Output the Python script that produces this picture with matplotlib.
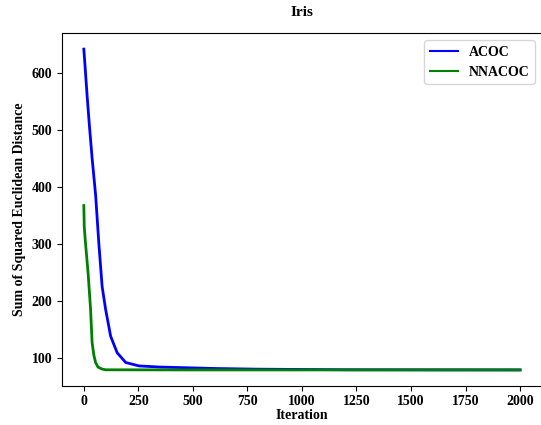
import matplotlib.pyplot as plt

# 迭代次数与目标函数值
acoc_iter = [0, 5, 15, 25, 38, 54, 69, 84, 100, 123, 153, 192, 253, 350, 500, 600, 800, 1200, 2000]
acoc_sse = [641, 615, 560, 510, 450, 386, 300, 225, 185, 138, 109, 92, 86, 84, 82.5, 81.5, 80.3, 79.3, 79.0]

nnacoc_iter = [0, 2, 8, 20, 31, 38, 46, 54, 65, 84, 100, 500, 2000]
nnacoc_sse = [367, 330, 300, 247, 185, 127, 105, 92, 84, 80.5, 79.2, 79.0, 79.0]

plt.rcParams['font.family'] = ['Liberation Serif', 'DejaVu Serif']
plt.rcParams['font.weight'] = 'bold'

fig = plt.figure(figsize=(5.41, 4.25), dpi=100)
ax = fig.add_axes([0.1146, 0.092, 0.887, 0.83])

ax.plot(acoc_iter, acoc_sse, color='blue', linewidth=2, label='ACOC')
ax.plot(nnacoc_iter, nnacoc_sse, color='green', linewidth=2, label='NNACOC')

ax.set_xlim(-100, 2100)
ax.set_ylim(51, 669)
ax.set_xticks([0, 250, 500, 750, 1000, 1250, 1500, 1750, 2000])
ax.set_yticks([100, 200, 300, 400, 500, 600])
ax.tick_params(labelsize=10)
ax.tick_params(axis='x', pad=3)
for lab in ax.get_xticklabels() + ax.get_yticklabels():
    lab.set_fontweight('bold')

ax.set_title('Iris', fontsize=11, fontweight='bold', pad=12)
ax.set_xlabel('Iteration', fontsize=10, fontweight='bold', labelpad=1)
ax.set_ylabel('Sum of Squared Euclidean Distance', fontsize=10, fontweight='bold')
leg = ax.legend(loc='upper right', prop={'size': 10, 'weight': 'bold'})
for line in leg.get_lines():
    line.set_linewidth(1.5)

fig.savefig('out.png', dpi=100)
